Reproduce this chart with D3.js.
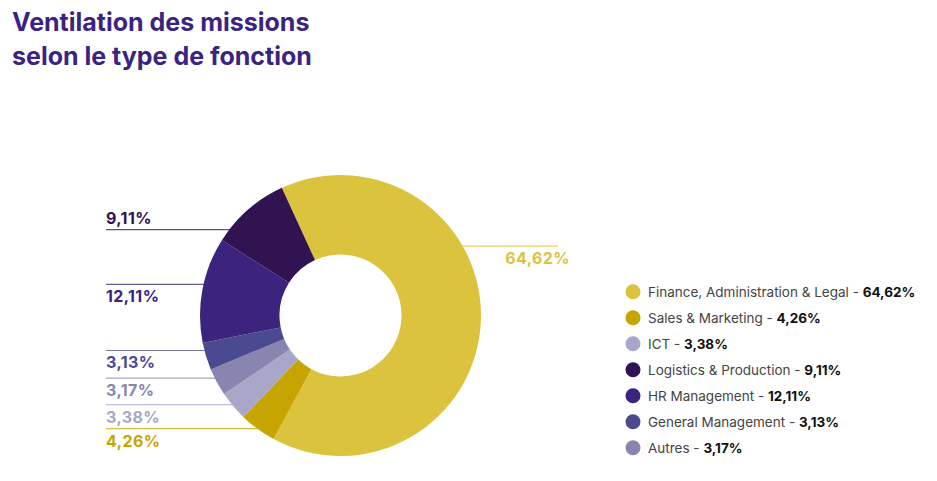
<!DOCTYPE html>
<html>
<head>
<meta charset="utf-8">
<script src="https://cdn.jsdelivr.net/npm/d3@7"></script>
<style>
  body { margin: 0; background: #fff; }
  svg { display: block; }
</style>
</head>
<body>
<svg width="937" height="481"></svg>
<script>
// legend order
const categories = [
    'Finance, Administration & Legal',
    'Sales & Marketing',
    'ICT',
    'Logistics & Production',
    'HR Management',
    'General Management',
    'Autres'
];
const values = [64.62, 4.26, 3.38, 9.11, 12.11, 3.13, 3.17];

// order of the slices round the ring, clockwise
const pieOrder = ['Finance, Administration & Legal', 'Sales & Marketing', 'ICT', 'Autres',
    'General Management', 'HR Management', 'Logistics & Production'];

const colors = ['#dcc33d', '#c6a500', '#a9a7c9', '#311352', '#3c237e', '#4b4a90', '#8886b0'];

const svg = d3.select('svg');
const cx = 340.5, cy = 315.5;
const rOuter = 140.5, rInner = 61;

const frFormat = v => d3.format('.2f')(v).replace('.', ',') + '%';
const color = d3.scaleOrdinal().domain(categories).range(colors);
const valueOf = name => values[categories.indexOf(name)];

// title
const title = svg.append('text')
    .attr('x', 12)
    .attr('font-family', 'Inter, "Noto Sans", sans-serif')
    .attr('font-weight', 700)
    .attr('font-size', 25)
    .attr('fill', '#3b2481');
title.append('tspan').attr('x', 12).attr('y', 31).text('Ventilation des missions');
title.append('tspan').attr('x', 12).attr('y', 65).text('selon le type de fonction');

// donut
const start = -24.7 * Math.PI / 180;
const pie = d3.pie()
    .sort(null)
    .value(d => valueOf(d))
    .startAngle(start)
    .endAngle(start + 2 * Math.PI);

const arc = d3.arc().innerRadius(rInner).outerRadius(rOuter);
const arcs = pie(pieOrder);

const g = svg.append('g').attr('transform', `translate(${cx},${cy})`);
g.selectAll('path')
    .data(arcs)
    .enter()
    .append('path')
    .attr('d', arc)
    .attr('fill', d => color(d.data));

// leader lines: where on each slice the line meets the ring (fraction of its angle)
const hitFrac = {
    'Finance, Administration & Legal': 0.365,
    'Sales & Marketing': 0.52,
    'ICT': 0.56,
    'Autres': 0.66,
    'General Management': 0.72,
    'HR Management': 0.55,
    'Logistics & Production': 0.16
};

const labels = svg.append('g')
    .attr('font-family', 'Inter, "Noto Sans", sans-serif')
    .attr('font-weight', 700)
    .attr('font-size', 16)
    .attr('letter-spacing', 0.4);

arcs.forEach(d => {
    const a = d.startAngle + hitFrac[d.data] * (d.endAngle - d.startAngle);
    const ex = cx + rOuter * Math.sin(a);
    const ey = cy - rOuter * Math.cos(a);
    const c = color(d.data);
    const right = Math.sin(a) > 0;
    labels.append('line')
        .attr('x1', right ? ex - 1 : 106)
        .attr('x2', right ? 558 : ex + 1)
        .attr('y1', ey).attr('y2', ey)
        .attr('stroke', c)
        .attr('stroke-opacity', 0.75)
        .attr('stroke-width', 1.2);
    const above = d.data === 'Logistics & Production';
    labels.append('text')
        .attr('x', right ? 570 : 106)
        .attr('y', above ? ey - 5.5 : ey + 18)
        .attr('text-anchor', right ? 'end' : 'start')
        .attr('fill', c)
        .text(frFormat(valueOf(d.data)));
});

// legend
const legend = svg.append('g')
    .attr('font-family', 'Inter, "Noto Sans", sans-serif')
    .attr('font-size', 13.5);

const rows = legend.selectAll('g')
    .data(categories)
    .enter()
    .append('g')
    .attr('transform', (d, i) => `translate(633,${291.7 + i * 26})`);

rows.append('circle')
    .attr('r', 7.5)
    .attr('fill', d => color(d));

const txt = rows.append('text')
    .attr('x', 15)
    .attr('y', 5);
txt.append('tspan').attr('fill', '#444').text(d => d + ' - ');
txt.append('tspan').attr('fill', '#111').attr('font-weight', 700).text((d, i) => frFormat(values[i]));
</script>
</body>
</html>
